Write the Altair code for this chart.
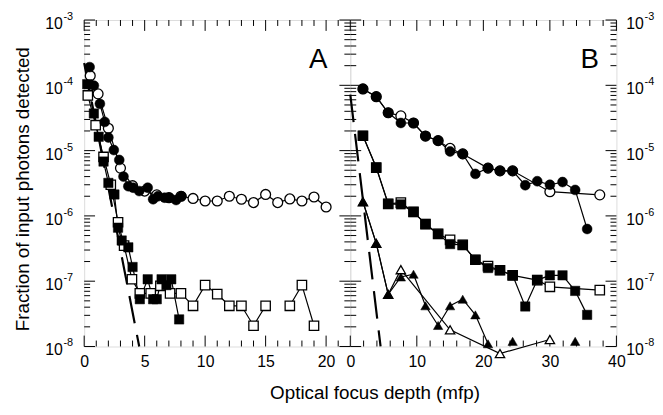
import altair as alt
import pandas as pd

# ---------------- data ----------------
# Panel A
A_FC_X = [0.45, 0.8, 1.3, 1.7, 2.0, 2.45, 2.9, 3.25, 3.65, 4.05, 4.55, 5.25, 5.7, 6.1, 6.65, 7.05, 7.6, 8.05]
A_FC_Y = [1.9e-4, 9.9e-5, 5.2e-5, 2.75e-5, 1.59e-5, 1.02e-5, 7.2e-6, 4.0e-6, 2.85e-6, 2.7e-6, 2.4e-6,
          2.7e-6, 1.8e-6, 2.0e-6, 1.9e-6, 1.9e-6, 1.75e-6, 2.0e-6]
A_OC_X = [0.5, 1.15, 2.0, 3.0, 4.0, 5.0, 6.0, 7.0, 8.0, 9, 10, 11, 12, 13, 14, 15, 16, 17, 18, 19, 20]
A_OC_Y = [1.4e-4, 7.4e-5, 2.2e-5, 5.4e-6, 2.9e-6, 2.4e-6, 2.1e-6, 1.9e-6, 2.0e-6, 1.85e-6, 1.69e-6, 1.69e-6,
          2.0e-6, 1.8e-6, 1.6e-6, 2.13e-6, 1.6e-6, 1.82e-6, 1.69e-6, 1.95e-6, 1.37e-6]
A_FS_X = [0.25, 0.8, 1.2, 1.6, 2.0, 2.5, 2.8, 3.1, 3.65, 4.0, 4.6, 5.25, 5.7, 6.0, 6.4, 6.8, 7.2, 7.85]
A_FS_Y = [1.04e-4, 3.7e-5, 1.63e-5, 6.8e-6, 3.2e-6, 2.13e-6, 6.6e-7, 4.2e-7, 3.3e-7, 1.65e-7, 5.3e-8,
          1.07e-7, 5.3e-8, 5.3e-8, 1.07e-7, 8.7e-8, 1.07e-7, 2.6e-8]
A_OS_X = [0.3, 0.95, 1.6, 2.2, 2.8, 3.3, 3.95, 4.6, 5.5, 6.3, 7.1, 8.0, 9, 10, 11, 12, 13, 14, 15, 17, 18, 19]
A_OS_Y = [7e-5, 2.45e-5, 8e-6, 3e-6, 8e-7, 3.5e-7, 1.07e-7, 6.5e-8, 6.5e-8, 8.5e-8, 6.5e-8, 6.5e-8, 4.2e-8,
          8.7e-8, 6.35e-8, 4.2e-8, 4.2e-8, 2.08e-8, 4.2e-8, 4.2e-8, 8.7e-8, 2.08e-8]
A_OS_SEG = [0] * 19 + [1, 1, 1]
A_DASH_X = [0.0, 4.55]
A_DASH_Y = [2.2e-4, 1.0e-8]

# Panel B
B_FC_X = [1.9, 3.9, 5.7, 7.6, 9.5, 11.3, 13.2, 15.0, 16.9, 18.8, 20.7, 22.5, 24.4, 26.3, 28.1, 30.0, 31.9, 33.8, 35.6]
B_FC_Y = [8.8e-5, 6.7e-5, 3.8e-5, 2.65e-5, 2.65e-5, 1.67e-5, 1.42e-5, 9.7e-6, 8.9e-6, 4.4e-6, 5.4e-6, 4.9e-6,
          4.9e-6, 2.95e-6, 3.4e-6, 3.0e-6, 3.3e-6, 2.5e-6, 6.3e-7]
B_OC_X = [1.9, 3.9, 5.7, 7.6, 9.5, 11.3, 13.2, 15.0, 16.9, 20.7, 22.5, 24.4, 30.0, 37.5]
B_OC_Y = [8.8e-5, 6.7e-5, 3.8e-5, 3.4e-5, 2.65e-5, 1.67e-5, 1.42e-5, 1.08e-5, 8.9e-6, 5.4e-6, 4.9e-6, 4.9e-6,
          2.35e-6, 2.1e-6]
B_FS_X = B_FC_X
B_FS_Y = [1.69e-5, 5.5e-6, 1.53e-6, 1.5e-6, 1.15e-6, 7.5e-7, 5.3e-7, 3.7e-7, 3.6e-7, 2.13e-7, 1.59e-7, 1.47e-7,
          1.23e-7, 4.1e-8, 1.04e-7, 1.23e-7, 1.23e-7, 7.1e-8, 3.05e-8]
B_OS_X = [1.9, 3.9, 5.7, 7.6, 9.5, 11.3, 13.2, 15.0, 16.9, 18.8, 20.7, 22.5, 24.4, 28.1, 30.0, 37.5]
B_OS_Y = [1.69e-5, 5.5e-6, 1.53e-6, 1.6e-6, 1.15e-6, 7.5e-7, 5.3e-7, 4.3e-7, 3.6e-7, 2.13e-7, 1.7e-7, 1.47e-7,
          1.23e-7, 1.04e-7, 8.2e-8, 7.3e-8]
B_FT_X = [1.9, 3.9, 5.7, 7.6, 9.5, 11.3, 13.2, 15.0, 16.9, 18.8, 20.7, 24.4, 33.8]
B_FT_Y = [1.65e-6, 3.8e-7, 6.3e-8, 1.16e-7, 1.28e-7, 4.2e-8, 2.1e-8, 4.2e-8, 5.3e-8, 3.05e-8, 1.1e-8, 1.2e-8, 1.2e-8]
B_FT_SEG = [0] * 11 + [1, 2]
B_OT_X = [1.9, 3.9, 5.7, 7.6, 15.0, 22.5, 30.0]
B_OT_Y = [1.65e-6, 3.8e-7, 6.3e-8, 1.5e-7, 1.8e-8, 7.8e-9, 1.28e-8]
B_DASH_X = [0.0, 4.55]
B_DASH_Y = [7.2e-5, 1.0e-8]

# axes
Y_DECADES = [1e-8, 1e-7, 1e-6, 1e-5, 1e-4, 1e-3]
Y_EXP = ["-8", "-7", "-6", "-5", "-4", "-3"]
Y_MINOR_MULT = [2, 3, 4, 5, 6, 7, 8, 9]
A_X_MAJOR = [0, 5, 10, 15, 20]
A_X_MINOR = [1, 2, 3, 4, 6, 7, 8, 9, 11, 12, 13, 14, 16, 17, 18, 19, 21]
B_X_MAJOR = [0, 10, 20, 30, 40]
B_X_MINOR = [2, 4, 6, 8, 12, 14, 16, 18, 22, 24, 26, 28, 32, 34, 36, 38]

YTITLE = "Fraction of input photons detected"
XTITLE = "Optical focus depth (mfp)"

FONT = "Liberation Sans"
W, H = 269, 330
MAJ, MIN = 11, 6
SZ_CIRCLE, SZ_SQUARE, SZ_TRI = 100, 90, 90

Y_MINOR = [m * d for d in Y_DECADES[:-1] for m in Y_MINOR_MULT]
yscale = alt.Scale(type="log", domain=[1e-8, 1e-3])


def sdf(xs, ys, name, segs=None):
    if segs is None:
        segs = [0] * len(xs)
    return pd.DataFrame({"x": xs, "y": ys, "seg": [f"{name}{s}" for s in segs]})


def panel(series, dash_x, dash_y, xdom, xmaj, xmin, letter, letter_x, left_labels, right_labels, extra):
    xscale = alt.Scale(domain=xdom, nice=False, zero=False)
    xaxis = alt.Axis(values=xmaj, ticks=False, domain=False, grid=False, labelFontSize=16, labelFont=FONT,
                     labelColor="black", labelPadding=7, title=None, labelFlush=False, labelOverlap=False,
                     format="d")
    X = lambda f: alt.X(f, type="quantitative", scale=xscale, axis=xaxis)
    Y = lambda f: alt.Y(f, type="quantitative", scale=yscale, axis=None)

    layers = []
    # tick marks (inward) on all four sides
    for vals, ln in ((xmaj, MAJ), (xmin, MIN)):
        d = pd.DataFrame({"v": vals})
        layers.append(alt.Chart(d).mark_rule(color="black", strokeWidth=1).encode(
            x=X("v"), y=alt.value(H), y2=alt.value(H - ln)))
        layers.append(alt.Chart(d).mark_rule(color="black", strokeWidth=1).encode(
            x=X("v"), y=alt.value(0), y2=alt.value(ln)))
    for vals, ln in ((Y_DECADES, MAJ), (Y_MINOR, MIN)):
        d = pd.DataFrame({"v": vals})
        layers.append(alt.Chart(d).mark_rule(color="black", strokeWidth=1).encode(
            y=Y("v"), x=alt.value(0), x2=alt.value(ln)))
        layers.append(alt.Chart(d).mark_rule(color="black", strokeWidth=1).encode(
            y=Y("v"), x=alt.value(W), x2=alt.value(W - ln)))

    # lines
    all_df = pd.concat([s[0] for s in series], ignore_index=True)
    layers.append(alt.Chart(all_df).mark_line(color="black", strokeWidth=1.2).encode(
        x=X("x"), y=Y("y"), detail="seg:N"))
    dd = pd.DataFrame({"x": dash_x, "y": dash_y})
    layers.append(alt.Chart(dd).mark_line(color="black", strokeWidth=2.2, strokeDash=[28, 12]).encode(
        x=X("x"), y=Y("y")))

    # markers: open first, filled on top
    for df, shape, filled, size in sorted(series, key=lambda s: s[2]):
        if filled:
            m = alt.Chart(df).mark_point(shape=shape, filled=True, fill="black", stroke="black",
                                         strokeWidth=0.5, size=size, opacity=1)
        else:
            m = alt.Chart(df).mark_point(shape=shape, filled=True, fill="white", stroke="black",
                                         strokeWidth=1.3, size=size, opacity=1)
        layers.append(m.encode(x=X("x"), y=Y("y")))

    # y labels 10^n
    lab = pd.DataFrame({"v": Y_DECADES, "e": Y_EXP, "b": ["10"] * len(Y_DECADES)})
    if left_labels:
        layers.append(alt.Chart(lab).mark_text(font=FONT, fontSize=16, align="right", baseline="middle",
                                               dy=4, color="black").encode(
            y=Y("v"), x=alt.value(-21.5), text="b:N"))
        layers.append(alt.Chart(lab).mark_text(font=FONT, fontSize=11, align="left", baseline="middle",
                                               dy=-3, color="black").encode(
            y=Y("v"), x=alt.value(-21), text="e:N"))
    if right_labels:
        layers.append(alt.Chart(lab).mark_text(font=FONT, fontSize=16, align="left", baseline="middle",
                                               dy=4, color="black").encode(
            y=Y("v"), x=alt.value(W + 10), text="b:N"))
        layers.append(alt.Chart(lab).mark_text(font=FONT, fontSize=11, align="left", baseline="middle",
                                               dy=-3, color="black").encode(
            y=Y("v"), x=alt.value(W + 28.5), text="e:N"))

    layers.append(alt.Chart(pd.DataFrame({"t": [letter]})).mark_text(
        font=FONT, fontSize=28, align="center", baseline="middle", color="black").encode(
        text="t:N", x=alt.value(letter_x), y=alt.value(40.5)))
    layers.extend(extra)
    return alt.layer(*layers).properties(width=W, height=H)


ytitle = alt.Chart(pd.DataFrame({"t": [YTITLE]})).mark_text(
    font=FONT, fontSize=19, angle=270, align="center", baseline="middle", color="black").encode(
    text="t:N", x=alt.value(-61.5), y=alt.value(171))
xtitle = alt.Chart(pd.DataFrame({"t": [XTITLE]})).mark_text(
    font=FONT, fontSize=19, align="center", baseline="middle", color="black").encode(
    text="t:N", x=alt.value(25), y=alt.value(377))

seriesA = [
    (sdf(A_OC_X, A_OC_Y, "aoc"), "circle", False, SZ_CIRCLE),
    (sdf(A_OS_X, A_OS_Y, "aos", A_OS_SEG), "square", False, SZ_SQUARE),
    (sdf(A_FC_X, A_FC_Y, "afc"), "circle", True, SZ_CIRCLE),
    (sdf(A_FS_X, A_FS_Y, "afs"), "square", True, SZ_SQUARE),
]
seriesB = [
    (sdf(B_OC_X, B_OC_Y, "boc"), "circle", False, SZ_CIRCLE),
    (sdf(B_OS_X, B_OS_Y, "bos"), "square", False, SZ_SQUARE),
    (sdf(B_OT_X, B_OT_Y, "bot"), "triangle-up", False, SZ_TRI),
    (sdf(B_FC_X, B_FC_Y, "bfc"), "circle", True, SZ_CIRCLE),
    (sdf(B_FS_X, B_FS_Y, "bfs"), "square", True, SZ_SQUARE),
    (sdf(B_FT_X, B_FT_Y, "bft", B_FT_SEG), "triangle-up", True, SZ_TRI),
]

pA = panel(seriesA, A_DASH_X, A_DASH_Y, [0, 22], A_X_MAJOR, A_X_MINOR, "A", 236.5, True, False, [ytitle])
pB = panel(seriesB, B_DASH_X, B_DASH_Y, [0, 40], B_X_MAJOR, B_X_MINOR, "B", 242, False, True, [xtitle])

chart = alt.hconcat(pA, pB, spacing=0, bounds="flush").properties(
    padding={"left": 5, "top": 0, "right": 0, "bottom": 0}
).configure_view(stroke="black", strokeWidth=1.5).configure(background="white")

chart.save("out.html", embed_options={"renderer": "svg", "actions": False})
